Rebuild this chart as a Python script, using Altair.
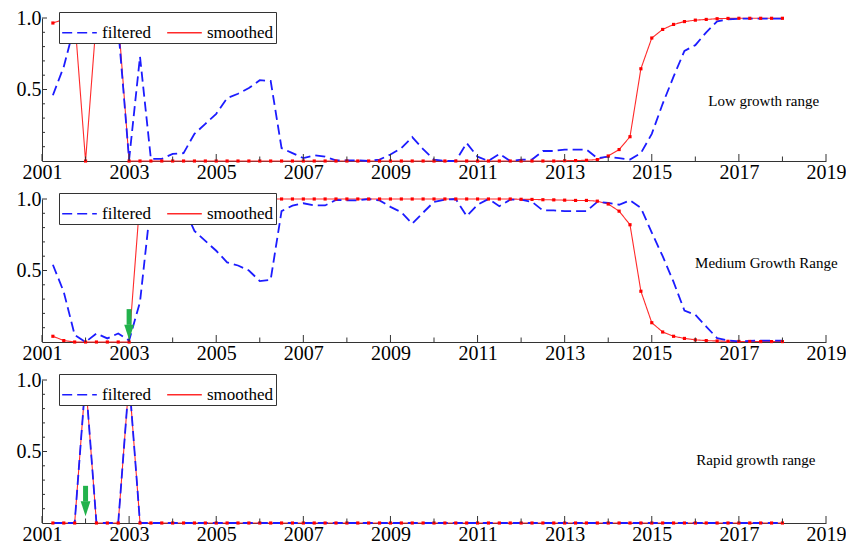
import altair as alt
import pandas as pd

# quarterly observation times (2001Q2 ... 2018Q1)
quarters = [2001.25 + 0.25 * i for i in range(68)]

low_filtered = [0.46, 0.66, 0.95, 0.90, 0.95, 0.98, 0.93, 0.01, 0.73, 0.015,
                0.015, 0.05, 0.055, 0.19, 0.26, 0.33, 0.44, 0.47, 0.51, 0.565,
                0.56, 0.09, 0.055, 0.02, 0.04, 0.03, 0.005, 0.005, 0.005, 0.0,
                0.01, 0.045, 0.09, 0.167, 0.083, 0.01, 0.0, 0.0, 0.125, 0.03,
                0.0, 0.05, 0.0, 0.01, 0.01, 0.07, 0.07, 0.08, 0.08, 0.08,
                0.02, 0.03, 0.02, 0.01, 0.055, 0.19, 0.40, 0.59, 0.77, 0.81,
                0.90, 0.977, 0.99, 0.995, 0.995, 0.995, 0.995, 0.995]
low_smoothed = [0.965, 0.99, 1.0, 0.0, 1.0, 1.0, 1.0, 0.0, 0.0, 0.0,
                0.0, 0.0, 0.0, 0.0, 0.0, 0.0, 0.0, 0.0, 0.0, 0.0,
                0.0, 0.0, 0.0, 0.0, 0.0, 0.0, 0.0, 0.0, 0.0, 0.0,
                0.0, 0.0, 0.0, 0.0, 0.0, 0.0, 0.0, 0.0, 0.0, 0.0,
                0.0, 0.0, 0.0, 0.0, 0.0, 0.0, 0.0, 0.002, 0.003, 0.005,
                0.01, 0.035, 0.08, 0.17, 0.645, 0.86, 0.92, 0.955, 0.975, 0.985,
                0.99, 0.995, 0.997, 0.998, 0.998, 0.998, 0.998, 0.998]
medium_filtered = [0.54, 0.35, 0.05, 0.0, 0.06, 0.025, 0.06, 0.01, 0.28, 0.975,
                   0.975, 0.94, 0.945, 0.777, 0.707, 0.638, 0.557, 0.535, 0.50, 0.426,
                   0.435, 0.915, 0.954, 0.97, 0.955, 0.955, 0.993, 0.99, 0.99, 1.0,
                   0.99, 0.945, 0.908, 0.827, 0.905, 0.98, 0.995, 1.0, 0.88, 0.96,
                   1.0, 0.95, 0.995, 0.995, 0.98, 0.92, 0.92, 0.915, 0.915, 0.915,
                   0.98, 0.973, 0.96, 0.99, 0.938, 0.765, 0.60, 0.42, 0.22, 0.19,
                   0.108, 0.027, 0.01, 0.005, 0.008, 0.01, 0.01, 0.01]
medium_smoothed = [0.04, 0.01, 0.0, 0.0, 0.0, 0.0, 0.0, 0.0, 1.0, 1.0,
                   1.0, 1.0, 1.0, 1.0, 1.0, 1.0, 1.0, 1.0, 1.0, 1.0,
                   1.0, 1.0, 1.0, 1.0, 1.0, 1.0, 1.0, 1.0, 1.0, 1.0,
                   1.0, 1.0, 1.0, 1.0, 1.0, 1.0, 1.0, 1.0, 1.0, 1.0,
                   1.0, 1.0, 1.0, 0.998, 0.997, 0.995, 0.994, 0.992, 0.99, 0.99,
                   0.985, 0.965, 0.915, 0.82, 0.355, 0.135, 0.07, 0.04, 0.025, 0.015,
                   0.01, 0.007, 0.005, 0.004, 0.004, 0.003, 0.003, 0.003]
rapid_filtered = [0.0, 0.0, 0.0, 1.0, 0.0, 0.0, 0.0, 1.0, 0.0, 0.0,
                  0.0, 0.0, 0.0, 0.0, 0.0, 0.0, 0.0, 0.0, 0.0, 0.0,
                  0.0, 0.0, 0.0, 0.0, 0.0, 0.0, 0.0, 0.0, 0.0, 0.0,
                  0.0, 0.0, 0.0, 0.0, 0.0, 0.0, 0.0, 0.0, 0.0, 0.0,
                  0.0, 0.0, 0.0, 0.0, 0.0, 0.0, 0.0, 0.0, 0.0, 0.0,
                  0.0, 0.0, 0.0, 0.0, 0.0, 0.0, 0.0, 0.0, 0.0, 0.0,
                  0.0, 0.0, 0.0, 0.0, 0.0, 0.0, 0.0, 0.0]
rapid_smoothed = [0.0, 0.0, 0.0, 1.0, 0.0, 0.0, 0.0, 1.0, 0.0, 0.0,
                  0.0, 0.0, 0.0, 0.0, 0.0, 0.0, 0.0, 0.0, 0.0, 0.0,
                  0.0, 0.0, 0.0, 0.0, 0.0, 0.0, 0.0, 0.0, 0.0, 0.0,
                  0.0, 0.0, 0.0, 0.0, 0.0, 0.0, 0.0, 0.0, 0.0, 0.0,
                  0.0, 0.0, 0.0, 0.0, 0.0, 0.0, 0.0, 0.0, 0.0, 0.0,
                  0.0, 0.0, 0.0, 0.0, 0.0, 0.0, 0.0, 0.0, 0.0, 0.0,
                  0.0, 0.0, 0.0, 0.0, 0.0, 0.0, 0.0, 0.0]

series_names = ["filtered", "smoothed"]
panel_labels = ["Low growth range", "Medium Growth Range", "Rapid growth range"]
label_x = [2017.57, 2017.63, 2017.39]
label_y = [0.42, 0.55, 0.44]
x_label_years = [2001, 2003, 2005, 2007, 2009, 2011, 2013, 2015, 2017, 2019]
x_tick_years = list(range(2001, 2020))
y_label_values = [0.5, 1.0]
y_tick_values = [0.1, 0.2, 0.3, 0.4, 0.5, 0.6, 0.7, 0.8, 0.9, 1.0]
# green arrows: (panel index, time, shaft top, shaft bottom, head centre)
arrows = [(1, 2003.0, 0.23, 0.12, 0.068), (2, 2002.0, 0.26, 0.15, 0.10)]

BLUE = "#1c1cff"
RED = "#ff2a2a"
GREEN = "#22b24c"
AXIS = "#333333"
FONT = "Liberation Serif, Times New Roman, serif"
W, H = 784, 143
PX_PER_YEAR = W / 18.0

xscale = alt.Scale(domain=[2001, 2019], nice=False, zero=False)
yscale = alt.Scale(domain=[0, 1], nice=False, zero=False)

legend = alt.Legend(title=None, orient="none", legendX=17, legendY=-6,
                    direction="horizontal", columns=2)


def panel(idx, filtered, smoothed):
    df = pd.DataFrame({
        "t": quarters + quarters,
        "value": filtered + smoothed,
        "series": ["filtered"] * len(quarters) + ["smoothed"] * len(quarters),
    })
    x = alt.X("t:Q", scale=xscale, title=None,
              axis=alt.Axis(values=x_label_years, format="d"))
    y = alt.Y("value:Q", scale=yscale, title=None,
              axis=alt.Axis(values=y_label_values, format=".1f"))
    color = alt.Color("series:N", scale=alt.Scale(domain=series_names, range=[BLUE, RED]),
                      legend=legend)
    dash = alt.StrokeDash("series:N", scale=alt.Scale(domain=series_names, range=[[10, 5], [1, 0]]),
                          legend=legend)
    base = alt.Chart(df)
    red_line = base.transform_filter("datum.series == 'smoothed'").mark_line(
        strokeWidth=1.1).encode(x=x, y=y, color=color, strokeDash=dash)
    blue_line = base.transform_filter("datum.series == 'filtered'").mark_line(
        strokeWidth=1.8).encode(x=x, y=y, color=color, strokeDash=dash)
    dots = base.transform_filter("datum.series == 'smoothed'").mark_square(
        size=10, opacity=1, color="#ff0000").encode(x=x, y=y)

    xt = pd.DataFrame({"t": x_tick_years,
                       "value": [0.0] * len(x_tick_years),
                       "y1": [(7.0 if yr % 2 == 1 else 4.5) / H for yr in x_tick_years]})
    xticks = alt.Chart(xt).mark_rule(color=AXIS, strokeWidth=1).encode(
        x=x, y=y, y2="y1:Q")
    yt = pd.DataFrame({"value": y_tick_values,
                       "t": [2001.0] * len(y_tick_values),
                       "x1": [2001.0 + (5.0 if v in y_label_values else 3.0) / PX_PER_YEAR
                              for v in y_tick_values]})
    yticks = alt.Chart(yt).mark_rule(color=AXIS, strokeWidth=1).encode(
        y=y, x=x, x2="x1:Q")

    ann = alt.Chart(pd.DataFrame({"label": [panel_labels[idx]]})).mark_text(
        font=FONT, fontSize=15, color="black", align="center", baseline="middle").encode(
        x=alt.datum(label_x[idx]), y=alt.datum(label_y[idx]), text="label:N")

    layers = [red_line, blue_line, dots, xticks, yticks, ann]
    for (p, t, top, bottom, head) in arrows:
        if p == idx:
            adf = pd.DataFrame({"t": [t], "value": [top], "bottom": [bottom], "head": [head]})
            shaft = alt.Chart(adf).mark_rule(color=GREEN, strokeWidth=5).encode(
                x=x, y=y, y2="bottom:Q")
            tip = alt.Chart(adf).mark_point(
                shape="M-0.65,-1L0.65,-1L0,1Z", size=225, filled=True, opacity=1,
                color=GREEN, strokeWidth=0).encode(
                x=x, y=alt.Y("head:Q", scale=yscale, title=None,
                             axis=alt.Axis(values=y_label_values, format=".1f")))
            layers += [shaft, tip]
    return alt.layer(*layers).properties(width=W, height=H)


chart = alt.vconcat(
    panel(0, low_filtered, low_smoothed),
    panel(1, medium_filtered, medium_smoothed),
    panel(2, rapid_filtered, rapid_smoothed),
    spacing=7,
).resolve_scale(color="independent", strokeDash="independent").properties(
    padding={"left": 8, "top": 0, "right": 0, "bottom": 0}
).configure(background="white", font=FONT).configure_view(strokeWidth=0).configure_axis(
    ticks=False, grid=False, labelFont=FONT, labelFontSize=20, labelColor="black",
    domainColor=AXIS, labelFlush=False
).configure_axisX(labelPadding=1).configure_axisY(labelPadding=1).configure_legend(
    symbolType="stroke", symbolSize=1200, symbolStrokeWidth=1.6,
    labelFont=FONT, labelFontSize=17, labelColor="black", labelOffset=4,
    columnPadding=11, padding=2, strokeColor=AXIS, fillColor="white"
)

chart.save("out.html", embed_options={"renderer": "svg", "actions": False})
